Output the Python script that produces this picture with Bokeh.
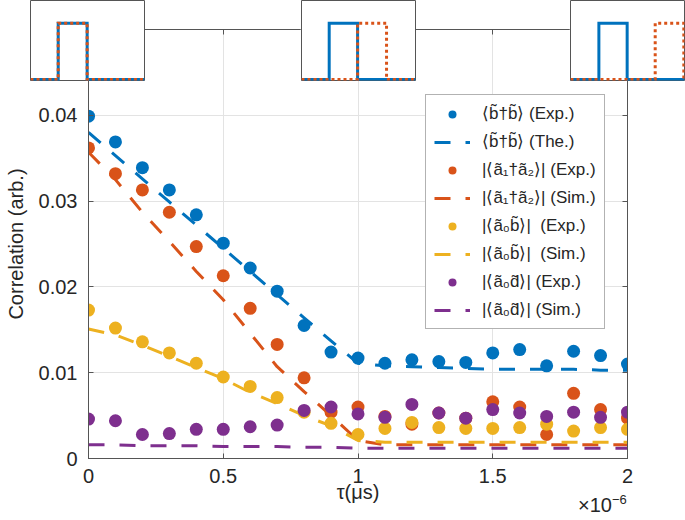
from bokeh.plotting import figure
from bokeh.models import (Range1d, FixedTicker, NumeralTickFormatter, LinearAxis,
                          Legend, LegendItem, Div, CustomJSTickFormatter)
from bokeh.embed import file_html
from bokeh.resources import INLINE

# ---------------- data (tau in units of 1e-6 s) ----------------
tau = [0.0, 0.1, 0.2, 0.3, 0.4, 0.5, 0.6, 0.7, 0.8, 0.9, 1.0,
       1.1, 1.2, 1.3, 1.4, 1.5, 1.6, 1.7, 1.8, 1.9, 2.0]

b_exp = [0.0399, 0.0369, 0.0339, 0.0313, 0.0284, 0.0251, 0.0222, 0.0195, 0.0155, 0.0124, 0.0117,
         0.0111, 0.0115, 0.0113, 0.0112, 0.0123, 0.0127, 0.0108, 0.0125, 0.0120, 0.0110]
b_the = [0.0380, 0.0353, 0.0326, 0.0299, 0.0272, 0.0245, 0.0218, 0.0191, 0.0164, 0.0137, 0.0111,
         0.0108, 0.0107, 0.0106, 0.0105, 0.0104, 0.0104, 0.0104, 0.0104, 0.0103, 0.0103]

a12_exp = [0.0362, 0.0332, 0.0313, 0.0287, 0.0247, 0.0213, 0.0175, 0.0133, 0.0094, 0.0054, 0.0060,
           0.0049, 0.0040, 0.0053, 0.0047, 0.0066, 0.0060, 0.0028, 0.0076, 0.0057, 0.0047]
a12_sim = [0.0357, 0.0325, 0.0287, 0.0253, 0.0218, 0.0185, 0.0146, 0.0107, 0.0078, 0.0050, 0.0021,
           0.0016, 0.0016, 0.0016, 0.0016, 0.0016, 0.0016, 0.0016, 0.0016, 0.0016, 0.0016]

a0b_exp = [0.0173, 0.0152, 0.0136, 0.0123, 0.0111, 0.0095, 0.0084, 0.0071, 0.0054, 0.0041, 0.0028,
           0.0035, 0.0042, 0.0036, 0.0035, 0.0035, 0.0036, 0.0040, 0.0032, 0.0036, 0.0034]
a0b_sim = [0.0151, 0.0144, 0.0132, 0.0119, 0.0106, 0.0093, 0.0077, 0.0064, 0.0050, 0.0038, 0.0021,
           0.0019, 0.0019, 0.0019, 0.0019, 0.0019, 0.0019, 0.0019, 0.0019, 0.0019, 0.0019]

a0d_exp = [0.0046, 0.0044, 0.0028, 0.0029, 0.0034, 0.0034, 0.0037, 0.0039, 0.0056, 0.0060, 0.0052,
           0.0048, 0.0063, 0.0053, 0.0047, 0.0057, 0.0053, 0.0049, 0.0054, 0.0048, 0.0054]
a0d_sim = [0.0016, 0.0016, 0.0015, 0.0015, 0.0015, 0.0014, 0.0014, 0.0014, 0.0013, 0.0013, 0.0012,
           0.0012, 0.0012, 0.0012, 0.0012, 0.0012, 0.0012, 0.0012, 0.0012, 0.0012, 0.0012]

x_ticks = [0, 0.5, 1, 1.5, 2]
y_ticks = [0, 0.01, 0.02, 0.03, 0.04, 0.05]

labels = ["⟨b̃†b̃⟩ (Exp.)", "⟨b̃†b̃⟩ (The.)",
          "|⟨ã₁†ã₂⟩| (Exp.)", "|⟨ã₁†ã₂⟩| (Sim.)",
          "|⟨ã₀b̃⟩|  (Exp.)", "|⟨ã₀b̃⟩|  (Sim.)",
          "|⟨ã₀d̃⟩| (Exp.)", "|⟨ã₀d̃⟩| (Sim.)"]
x_exponent = "×10<sup style='font-size:13px'>−6</sup>"

# inset pulse sequences (time fraction, level)
pulse_t = [
    ([0, 0.243, 0.243, 0.497, 0.497, 1], [0, 0.243, 0.243, 0.497, 0.497, 1]),
    ([0, 0.243, 0.243, 0.492, 0.492, 1], [0, 0.492, 0.492, 0.746, 0.746, 1]),
    ([0, 0.249, 0.249, 0.497, 0.497, 1], [0, 0.743, 0.743, 0.994, 0.994, 1]),
]
pulse_level = [0, 0, 1, 1, 0, 0]
inset_left = [29, 300, 569]

BLUE, ORANGE, YELLOW, PURPLE = "#0072BD", "#D95319", "#EDB120", "#7E2F8E"
FONT = "Liberation Sans"
TXT = "#262626"
AX = "#555555"

# ---------------- main figure ----------------
p = figure(frame_width=539, frame_height=429,
           x_range=Range1d(0, 2), y_range=Range1d(0, 0.05),
           min_border_left=88, min_border_top=29, min_border_right=42, min_border_bottom=54,
           toolbar_location=None, output_backend="svg",
           styles={"position": "absolute", "left": "0px", "top": "0px"})
p.background_fill_color = "white"
p.border_fill_color = "white"
p.outline_line_color = AX
p.outline_line_width = 1

p.xaxis.ticker = FixedTicker(ticks=x_ticks)
p.xaxis.formatter = NumeralTickFormatter(format="0.[0]")
p.yaxis.ticker = FixedTicker(ticks=y_ticks)
p.yaxis.formatter = NumeralTickFormatter(format="0.[00]")
for ax in (p.xaxis[0], p.yaxis[0]):
    ax.major_tick_in = 5
    ax.major_tick_out = 0
    ax.minor_tick_line_color = None
    ax.axis_line_color = AX
    ax.major_tick_line_color = AX
    ax.major_label_text_font = FONT
    ax.major_label_text_font_size = "20px"
    ax.major_label_text_color = TXT
    ax.axis_label_text_font = FONT
    ax.axis_label_text_font_size = "20px"
    ax.axis_label_text_font_style = "normal"
    ax.axis_label_text_color = TXT
p.xaxis.axis_label = "τ(μs)"
p.yaxis.axis_label = "Correlation (arb.)"
p.xaxis.major_label_standoff = 10
p.xaxis.axis_label_standoff = -5
p.yaxis.major_label_standoff = 11
p.yaxis.axis_label_standoff = 9

for side, tk in (("above", x_ticks), ("right", y_ticks)):
    ax = LinearAxis(ticker=FixedTicker(ticks=tk), major_tick_in=5, major_tick_out=0,
                    minor_tick_line_color=None, axis_line_color=AX,
                    major_tick_line_color=AX,
                    formatter=CustomJSTickFormatter(code="return ''"))
    p.add_layout(ax, side)

p.grid.grid_line_color = "#e3e3e3"
p.grid.grid_line_width = 1

DASH = "16 15"
MS = 13
series = [(b_exp, b_the, BLUE), (a12_exp, a12_sim, ORANGE),
          (a0b_exp, a0b_sim, YELLOW), (a0d_exp, a0d_sim, PURPLE)]
items = []
for i, (ey, sy, c) in enumerate(series):
    r1 = p.scatter(tau, ey, size=MS, marker="circle", fill_color=c, line_color=c, line_width=0)
    r2 = p.line(tau, sy, line_color=c, line_width=3, line_dash=DASH)
    items.append(LegendItem(label=labels[2 * i], renderers=[r1]))
    items.append(LegendItem(label=labels[2 * i + 1], renderers=[r2]))

legend = Legend(items=items, location=(337, 129), padding=8, spacing=7,
                glyph_width=36, glyph_height=20, label_height=20, label_standoff=12,
                label_text_font=FONT, label_text_font_size="17px", label_text_color=TXT,
                border_line_color="#666666", border_line_width=1,
                background_fill_color="white", background_fill_alpha=1.0, margin=0)
p.add_layout(legend)

# exponent of the x axis
expo = Div(text=x_exponent, width=60, height=24,
           styles={"position": "absolute", "left": "573px", "top": "486px",
                   "font-family": FONT, "font-size": "20px", "color": TXT})

# ---------------- insets (pulse sequences) ----------------
insets = []
for k, (tb, to) in enumerate(pulse_t):
    f = figure(width=116, height=82, x_range=Range1d(0, 1), y_range=Range1d(-0.018, 1.403),
               x_axis_type=None, y_axis_type=None, min_border=1,
               toolbar_location=None, output_backend="svg",
               styles={"position": "absolute", "left": f"{inset_left[k]}px", "top": "-1px"})
    f.outline_line_color = AX
    f.outline_line_width = 1
    f.background_fill_color = "white"
    f.border_fill_color = "white"
    f.line(tb, pulse_level, line_color=BLUE, line_width=3, line_join="miter")
    f.line(to, pulse_level, line_color=ORANGE, line_width=3, line_dash="3 3", line_join="miter")
    insets.append(f)

html = file_html([p, expo] + insets, INLINE)
open("out.html", "w").write(html)
